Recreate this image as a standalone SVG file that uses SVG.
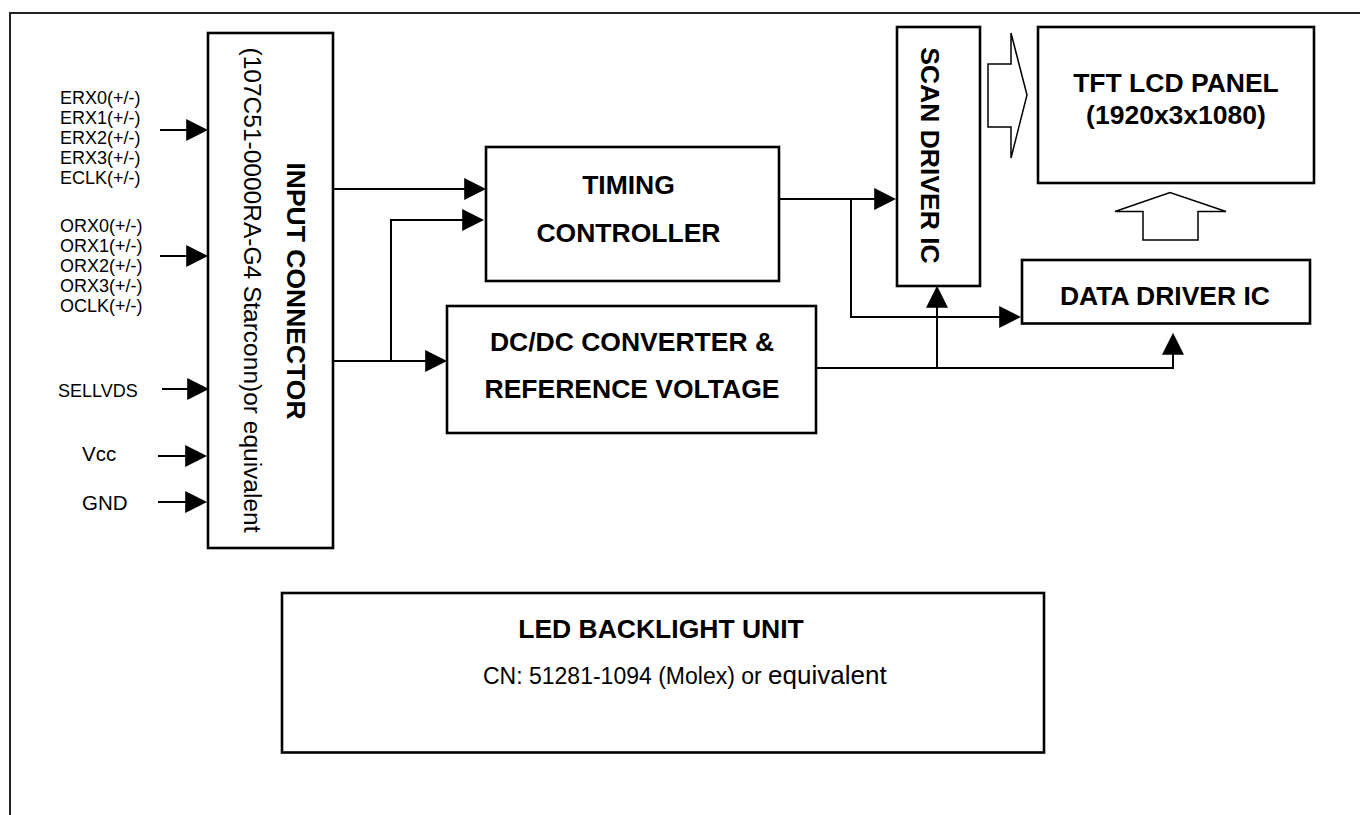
<svg xmlns="http://www.w3.org/2000/svg" width="1360" height="815" viewBox="0 0 1360 815">
<style>
  .box { fill: #fff; stroke: #000; stroke-width: 2.6; }
  .hollow { fill: #fff; stroke: #000; stroke-width: 1.5; stroke-linejoin: miter; }
  .wire { fill: none; stroke: #000; stroke-width: 2; }
  .lbl { font-family: "Liberation Sans", Arial, sans-serif; font-size: 18px; fill: #000; }
  .lbl2 { font-family: "Liberation Sans", Arial, sans-serif; font-size: 20.5px; fill: #000; }
  .bold { font-family: "Liberation Sans", Arial, sans-serif; font-weight: bold; font-size: 26.5px; fill: #000; text-anchor: middle; }
  .reg { font-family: "Liberation Sans", Arial, sans-serif; fill: #000; }
</style>
<defs>
  <marker id="ah" markerUnits="userSpaceOnUse" markerWidth="22" markerHeight="22" refX="17" refY="10.5" orient="auto" viewBox="0 0 21 21">
    <path d="M0,0 L21,10.5 L0,21 Z" fill="#000"/>
  </marker>
</defs>
<rect width="1360" height="815" fill="#fff"/>
<g id="frame">
  <path d="M10,815 L10,13 L1360,13" fill="none" stroke="#222" stroke-width="2"/>
</g>

<g id="input-labels">
  <text class="lbl" x="60" y="103.5">ERX0(+/-)</text>
  <text class="lbl" x="60" y="123.5">ERX1(+/-)</text>
  <text class="lbl" x="60" y="143.5">ERX2(+/-)</text>
  <text class="lbl" x="60" y="163.5">ERX3(+/-)</text>
  <text class="lbl" x="60" y="183.5">ECLK(+/-)</text>
  <text class="lbl" x="60" y="232">ORX0(+/-)</text>
  <text class="lbl" x="60" y="252">ORX1(+/-)</text>
  <text class="lbl" x="60" y="272">ORX2(+/-)</text>
  <text class="lbl" x="60" y="292">ORX3(+/-)</text>
  <text class="lbl" x="60" y="312">OCLK(+/-)</text>
  <text class="lbl" x="58" y="396.5">SELLVDS</text>
  <text class="lbl2" x="82" y="461">Vcc</text>
  <text class="lbl2" x="82" y="510">GND</text>
</g>

<g id="input-connector">
  <rect class="box" x="208" y="33" width="125" height="515"/>
  <text class="reg" font-size="23" text-anchor="middle" transform="translate(244,290) rotate(90)" textLength="485" lengthAdjust="spacingAndGlyphs">(107C51-0000RA-G4 Starconn)or equivalent</text>
  <text class="bold" font-size="26" transform="translate(287,291) rotate(90)">INPUT CONNECTOR</text>
</g>

<g id="timing-controller">
  <rect class="box" x="486" y="147" width="293" height="134"/>
  <text class="bold" x="628.5" y="194">TIMING</text>
  <text class="bold" x="628.5" y="241.5">CONTROLLER</text>
</g>

<g id="dcdc-converter">
  <rect class="box" x="447" y="306" width="369" height="127"/>
  <text class="bold" x="632" y="350.5">DC/DC CONVERTER &amp;</text>
  <text class="bold" x="632" y="398">REFERENCE VOLTAGE</text>
</g>

<g id="scan-driver">
  <rect class="box" x="897" y="27" width="83" height="259"/>
  <text class="bold" font-size="26" transform="translate(921,155.5) rotate(90)">SCAN DRIVER IC</text>
</g>

<g id="tft-panel">
  <rect class="box" x="1038" y="27" width="276" height="156"/>
  <text class="bold" x="1176" y="91.5">TFT LCD PANEL</text>
  <text class="bold" x="1176" y="124">(1920x3x1080)</text>
</g>

<g id="data-driver">
  <rect class="box" x="1022" y="260" width="288" height="63.5"/>
  <text class="bold" x="1165" y="305">DATA DRIVER IC</text>
</g>

<g id="led-backlight">
  <rect class="box" x="282" y="593" width="762" height="159.5"/>
  <text class="bold" x="661" y="638">LED BACKLIGHT UNIT</text>
  <text class="reg" x="483" y="683.5"><tspan font-size="23">CN: 51281-1094 (Molex) or </tspan><tspan font-size="26">equivalent</tspan></text>
</g>

<g id="connectors">
  <line class="wire" x1="160" y1="130" x2="204" y2="130" marker-end="url(#ah)"/>
  <line class="wire" x1="160" y1="256" x2="204" y2="256" marker-end="url(#ah)"/>
  <line class="wire" x1="162" y1="389" x2="205" y2="389" marker-end="url(#ah)"/>
  <line class="wire" x1="158" y1="456" x2="203" y2="456" marker-end="url(#ah)"/>
  <line class="wire" x1="158" y1="502" x2="203" y2="502" marker-end="url(#ah)"/>
  <line class="wire" x1="333" y1="189" x2="482" y2="189" marker-end="url(#ah)"/>
  <line class="wire" x1="333" y1="361" x2="443" y2="361" marker-end="url(#ah)"/>
  <polyline class="wire" points="391,361 391,220 480,220" marker-end="url(#ah)"/>
  <line class="wire" x1="779" y1="199" x2="892" y2="199" marker-end="url(#ah)"/>
  <polyline class="wire" points="851,199 851,317 1017,317" marker-end="url(#ah)"/>
  <polyline class="wire" points="816,368 1173,368 1173,337" marker-end="url(#ah)"/>
  <line class="wire" x1="937" y1="368" x2="937" y2="290" marker-end="url(#ah)"/>
  <polygon class="hollow" points="988,64 1011,64 1011,33 1027,95 1011,158 1011,127 988,127"/>
  <polygon class="hollow" points="1143,240 1198,240 1198,211.5 1226,211.5 1170,192.5 1115,211.5 1143,211.5"/>
</g>
</svg>
